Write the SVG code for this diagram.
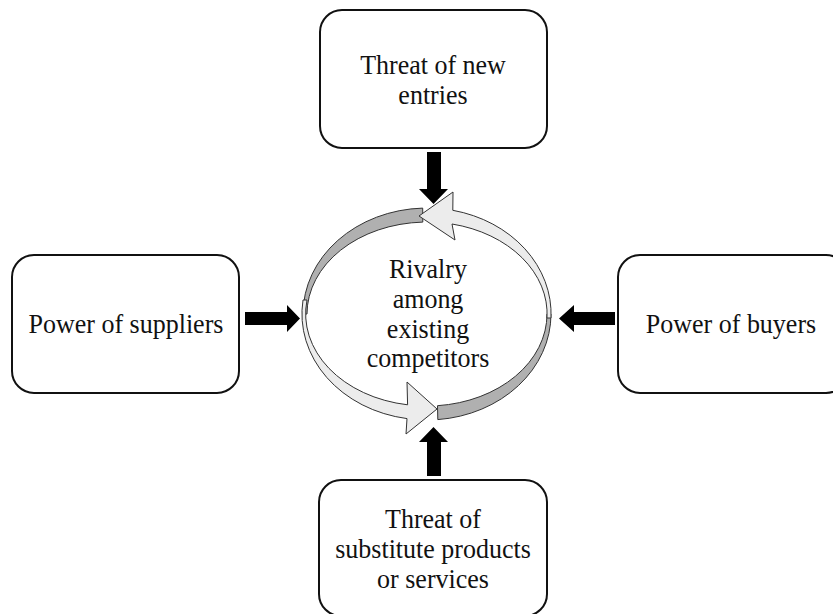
<svg xmlns="http://www.w3.org/2000/svg" width="833" height="614" viewBox="0 0 833 614">
<style>
.box{fill:#fff;stroke:#111;stroke-width:2}
.lbl{font-family:"Liberation Serif","Times New Roman",serif;font-size:26px;fill:#111;text-anchor:middle}
.conn{fill:#000;stroke:none}
.dark{fill:#b0b0b0;stroke:#333;stroke-width:1}
.light{fill:#ececec;stroke:#333;stroke-width:1}
</style>
<rect width="833" height="614" fill="#fff"/>
<g id="connectors">
<polygon class="conn" points="427,152 441,152 441,189 448,189 433.5,204 419,189 427,189"/>
<polygon class="conn" points="245,312 287,312 287,305 300,318.5 287,332 287,325 245,325"/>
<polygon class="conn" points="615,312 574,312 574,305 559,318.5 574,332 574,325 615,325"/>
<polygon class="conn" points="427,476 441,476 441,442 448,442 433.5,427 419,442 427,442"/>
</g>
<g id="node-top">
<rect class="box" x="320" y="10" width="227" height="138" rx="22"/>
<text class="lbl" transform="translate(433,74) scale(1,1.07)">Threat of new</text>
<text class="lbl" transform="translate(433,104) scale(1,1.07)">entries</text>
</g>
<g id="node-left">
<rect class="box" x="12" y="255" width="227" height="138" rx="22"/>
<text class="lbl" transform="translate(126,333) scale(1,1.07)">Power of suppliers</text>
</g>
<g id="node-right">
<rect class="box" x="618" y="255" width="230" height="138" rx="22"/>
<text class="lbl" transform="translate(731,333) scale(1,1.07)">Power of buyers</text>
</g>
<g id="node-bottom">
<rect class="box" x="319" y="480" width="228" height="136" rx="22"/>
<text class="lbl" transform="translate(433,528) scale(1,1.07)">Threat of</text>
<text class="lbl" transform="translate(433,558) scale(1,1.07)">substitute products</text>
<text class="lbl" transform="translate(433,588) scale(1,1.07)">or services</text>
</g>
<g id="node-center">
<path class="dark" d="M303,314 A124,106 0 0 1 422.7,208.1 L422.8,222.1 A120,92 0 0 0 307,314 Z"/>
<path class="dark" d="M551,314 A124,106 0 0 1 437.8,419.6 L437.5,405.7 A120,92 0 0 0 547,314 Z"/>
<path class="light" d="M551,318 A124,106 0 0 0 452.8,210.3 L453,192 L419,216 L455,240 L452,224 A120,92 0 0 1 547,318 Z"/>
<path class="light" d="M303,300 A124,106 0 0 0 407,418.6 L406,434 L437,409 L407,382 L407.6,404.8 A120,92 0 0 1 307,300 Z"/>
<text class="lbl" transform="translate(428,278) scale(1,1.07)">Rivalry</text>
<text class="lbl" transform="translate(428,308) scale(1,1.07)">among</text>
<text class="lbl" transform="translate(428,338) scale(1,1.07)">existing</text>
<text class="lbl" transform="translate(428,367) scale(1,1.07)">competitors</text>
</g>
</svg>
